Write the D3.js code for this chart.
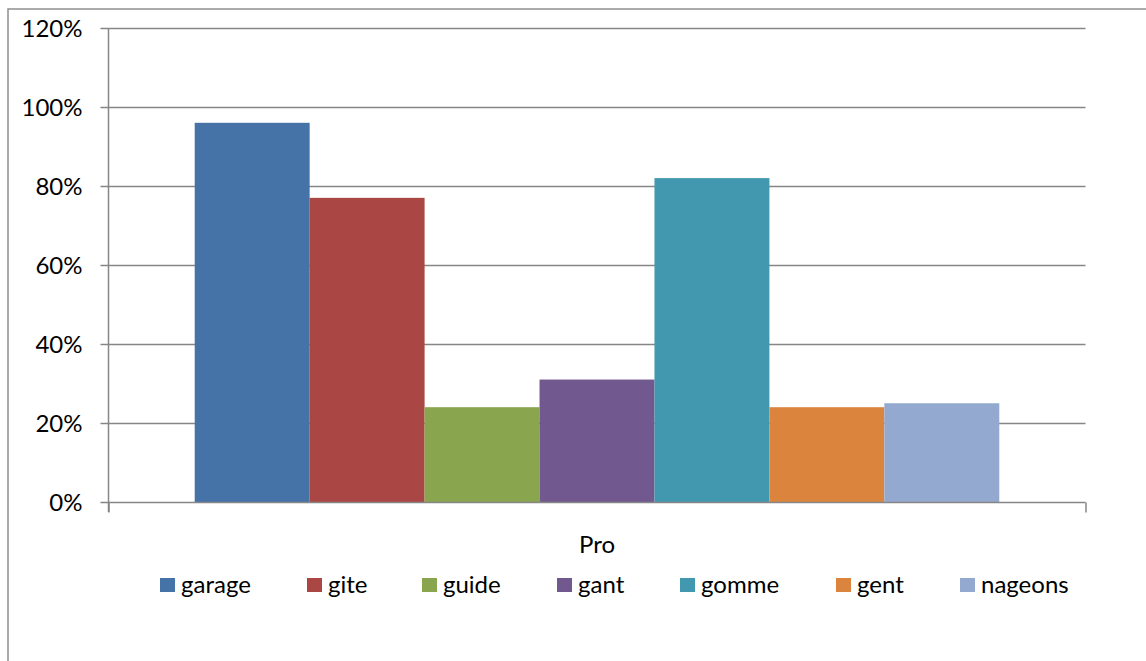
<!DOCTYPE html>
<html>
<head>
<meta charset="utf-8">
<script src="https://cdn.jsdelivr.net/npm/d3@7"></script>
<style>
  html, body { margin: 0; padding: 0; background: #fff; }
  svg { display: block; }
  text { font-family: Lato, "Open Sans", sans-serif; fill: #000; }
</style>
</head>
<body>
<svg id="chart" width="1146" height="661"></svg>
<script>
// Chart data
const category = "Pro";
const seriesNames = ["garage", "gite", "guide", "gant", "gomme", "gent", "nageons"];
const seriesValues = [0.96, 0.77, 0.24, 0.31, 0.82, 0.24, 0.25];
const seriesColors = ["#4572A7", "#AA4643", "#89A54E", "#71588F", "#4198AF", "#DB843D", "#93A9CF"];
const yTicks = [0, 0.2, 0.4, 0.6, 0.8, 1.0, 1.2];

const svg = d3.select("#chart");
const W = 1146, H = 661;
const plot = { left: 108.5, right: 1085.5, top: 28, bottom: 502 };
const fontSize = "24px";

// Outer chart frame
svg.append("rect")
  .attr("x", 8).attr("y", 9)
  .attr("width", W + 10).attr("height", H + 10)
  .attr("fill", "none").attr("stroke", "#8e8e8e").attr("stroke-width", 1.5);

const y = d3.scaleLinear().domain([0, 1.2]).range([plot.bottom, plot.top]);

// One category band, bars of the series side by side (gap = 150% of a bar)
const x0 = d3.scaleBand().domain([category]).range([plot.left, plot.right])
  .paddingInner(0).paddingOuter(0.75 / seriesNames.length);
const x1 = d3.scaleBand().domain(seriesNames).range([0, x0.bandwidth()]).padding(0);

// Horizontal gridlines
svg.append("g")
  .selectAll("line")
  .data(yTicks.filter(d => d > 0))
  .join("line")
  .attr("x1", plot.left).attr("x2", plot.right)
  .attr("y1", d => Math.round(y(d)) + 0.5).attr("y2", d => Math.round(y(d)) + 0.5)
  .attr("stroke", "#868686").attr("stroke-width", 1.5);

// Bars
svg.append("g")
  .selectAll("rect")
  .data(seriesNames.map((n, i) => ({ name: n, value: seriesValues[i], color: seriesColors[i] })))
  .join("rect")
  .attr("x", d => x0(category) + x1(d.name))
  .attr("width", x1.bandwidth())
  .attr("y", d => y(d.value))
  .attr("height", d => y(0) - y(d.value))
  .attr("fill", d => d.color);

// Y axis
const yAxis = d3.axisLeft(y).tickValues(yTicks).tickFormat(d3.format(".0%"))
  .tickSize(8).tickPadding(18);
const gy = svg.append("g")
  .attr("transform", `translate(${plot.left},0)`)
  .call(yAxis);
gy.select(".domain").attr("stroke", "#868686").attr("stroke-width", 1.5)
  .attr("d", `M0,${y(1.2)}V${plot.bottom + 10}`);
gy.selectAll(".tick line").attr("stroke", "#868686").attr("stroke-width", 1.5);
gy.selectAll(".tick text")
  .style("font-family", "Lato, 'Open Sans', sans-serif")
  .style("font-size", fontSize).attr("fill", "#000").attr("dy", "0.35em");

// X axis line with ticks at both edges of the category
const xAxis = d3.axisBottom(d3.scaleLinear().domain([0, 1]).range([0, plot.right - plot.left]))
  .tickValues([0, 1]).tickSize(10).tickFormat("");
const gx = svg.append("g")
  .attr("transform", `translate(${plot.left},${Math.round(y(0)) + 0.5})`)
  .call(xAxis);
gx.select(".domain").attr("stroke", "#868686").attr("stroke-width", 1.5)
  .attr("d", `M0,0H${plot.right - plot.left}`);
gx.selectAll(".tick line").attr("stroke", "#868686").attr("stroke-width", 1.5);

// Category label
svg.append("text")
  .attr("x", x0(category) + x0.bandwidth() / 2)
  .attr("y", 553)
  .attr("text-anchor", "middle")
  .style("font-size", fontSize)
  .text(category);

// Legend
const legendX = [160, 307, 422, 557, 680, 836, 960];
const legend = svg.append("g")
  .selectAll("g")
  .data(seriesNames)
  .join("g")
  .attr("transform", (d, i) => `translate(${legendX[i]},578)`);
legend.append("rect")
  .attr("width", 15).attr("height", 14)
  .attr("fill", (d, i) => seriesColors[i]);
legend.append("text")
  .attr("x", 21).attr("y", 15)
  .style("font-size", fontSize)
  .text(d => d);
</script>
</body>
</html>
